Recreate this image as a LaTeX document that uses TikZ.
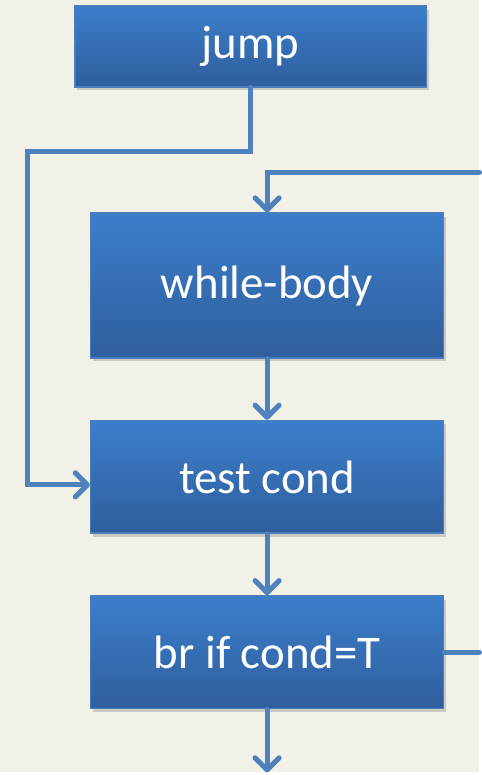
\documentclass[tikz,border=0pt]{standalone}
\usepackage{fontspec}
\setmainfont{Carlito}
\usepackage{tikz}
\usetikzlibrary{arrows.meta,shadows}

\definecolor{paper}{RGB}{242,241,232}
\definecolor{boxtop}{RGB}{60,126,203}
\definecolor{boxbot}{RGB}{47,94,157}
\definecolor{boxrim}{RGB}{74,126,187}
\definecolor{wire}{RGB}{79,129,189}

\begin{document}
\begin{tikzpicture}[x=0.5pt, y=-0.5pt,
    >={Straight Barb[length=6pt, width=12pt, line cap=round, line join=round]},
    block/.style={rectangle, draw=boxrim, line width=0.8pt,
      top color=boxtop, bottom color=boxbot, text=white,
      font=\fontsize{23.5}{28}\selectfont, inner sep=0pt,
      drop shadow={shadow xshift=1.2pt, shadow yshift=-1.8pt, opacity=0.35}},
    conn/.style={draw=wire, line width=2.6pt, line cap=round}]
  % page, same size as the slide crop
  \fill[paper] (0,0) rectangle (481,775);
  % the four blocks of the while loop
  \node[block, minimum width=176.5pt, minimum height=40.5pt] (jump) at (251.5,46.5) {jump};
  \node[block, minimum width=177pt, minimum height=72.5pt] (body) at (268,286.5) {while-body};
  \node[block, minimum width=177pt, minimum height=56.5pt] (test) at (268,478.5) {test cond};
  \node[block, minimum width=177pt, minimum height=56.5pt] (br) at (268,654.5) {br if cond=T};
  % loose ends at the edge of the picture
  \coordinate (jl) at (28,152);
  \coordinate (back) at (481,173);
  \coordinate (out) at (481,655);
  \coordinate (down) at (268,775);
  % jump goes straight to the test
  \draw[conn,->] (jump.south) |- (jl) |- ([yshift=-4pt]test.west);
  % back edge into the body
  \draw[conn,->] (back) -| (body.north);
  \draw[conn,->] (body) -- (test);
  \draw[conn,->] (test) -- (br);
  \draw[conn] (br.east) -- (br.east -| out);
  \draw[conn,->] (br) -- (down);
\end{tikzpicture}
\end{document}
